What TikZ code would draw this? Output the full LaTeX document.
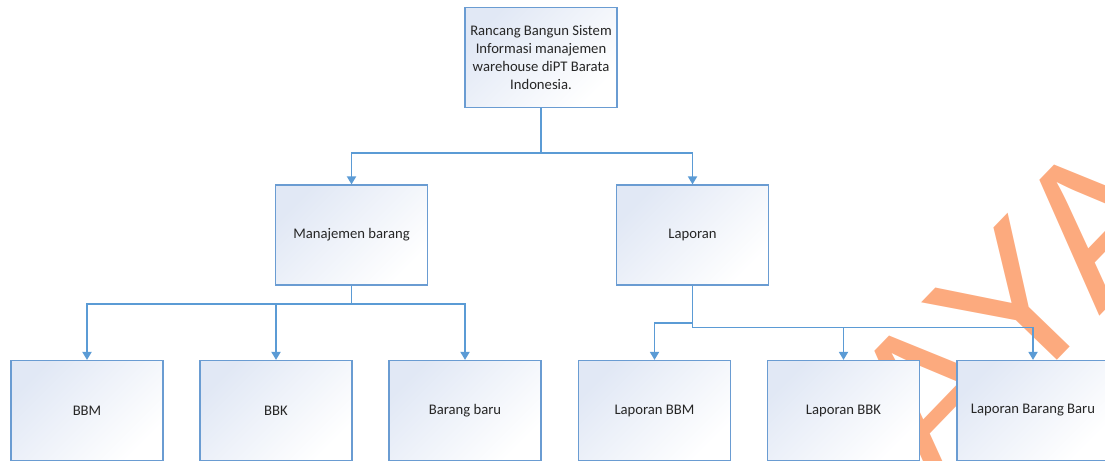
\documentclass[tikz,border=0pt]{standalone}
\usepackage{fontspec}
\setmainfont{Carlito}
\newfontfamily\wmfont{Liberation Sans}
\usepackage{xcolor}
\definecolor{hlblue}{HTML}{5B9BD5}
\definecolor{hledge}{HTML}{6A9CD2}
\definecolor{hlfill}{HTML}{E1E8F5}
\definecolor{hltext}{HTML}{262626}
\definecolor{wmorange}{HTML}{FCAA7E}
\usepackage{tikz}
\usetikzlibrary{arrows.meta,positioning}

\begin{document}
\begin{tikzpicture}[x=0.75pt,y=-0.75pt,>={Triangle[width=6.8pt,length=6pt]}]
\tikzset{
 n/.style={draw=hledge,line width=0.9pt,top color=hlfill,bottom color=white,shading angle=45,minimum width=114pt,minimum height=75pt,inner sep=2pt,align=center,font=\fontsize{11}{13.3}\selectfont,text=hltext},
 a/.style={->,draw=hlblue,line width=1.2pt},
 l/.style={draw=hlblue,line width=1.2pt},
 wm/.style={text=wmorange,inner sep=0pt,font=\wmfont\fontsize{150}{150}\selectfont}
}
\clip (0,0) rectangle (1105,460);
\useasboundingbox (0,0) rectangle (1105,460);
% watermark behind the boxes
\node[wm,rotate=46] (wmark) at (1014,306) {AYA};
% level 0
\node[n] (root) at (541,57.5) {Rancang Bangun Sistem\\Informasi manajemen\\warehouse diPT Barata\\Indonesia.};
% level 1
\node[n] (mgmt) at (351.5,235) {Manajemen barang};
\node[n] (lap) at (692.5,235) {Laporan};
% level 2
\node[n] (bbm) at (87,410.5) {BBM};
\node[n] (bbk) at (276,410.5) {BBK};
\node[n] (baru) at (465,410.5) {Barang baru};
\node[n] (lbbm) at (654.5,410.5) {Laporan BBM};
\node[n] (lbbk) at (843.5,410.5) {Laporan BBK};
\node[n] (lbaru) at (1033,410.5) {Laporan Barang Baru};
% junctions
\coordinate (j1) at (541,153);
\coordinate (j2) at (351.5,304);
\coordinate (j3) at (692.5,323);
\coordinate (j4) at (692.5,327.5);
\draw[l] (root) -- (j1);
\draw[l] (mgmt) -- (j2);
\draw[l] (lap) -- (j4);
\foreach \i/\j in {j1/mgmt,j1/lap,j2/bbm,j2/bbk,j2/baru,j3/lbbm,j4/lbbk,j4/lbaru}{\draw[a] (\i) -| (\j);}
\end{tikzpicture}
\end{document}
